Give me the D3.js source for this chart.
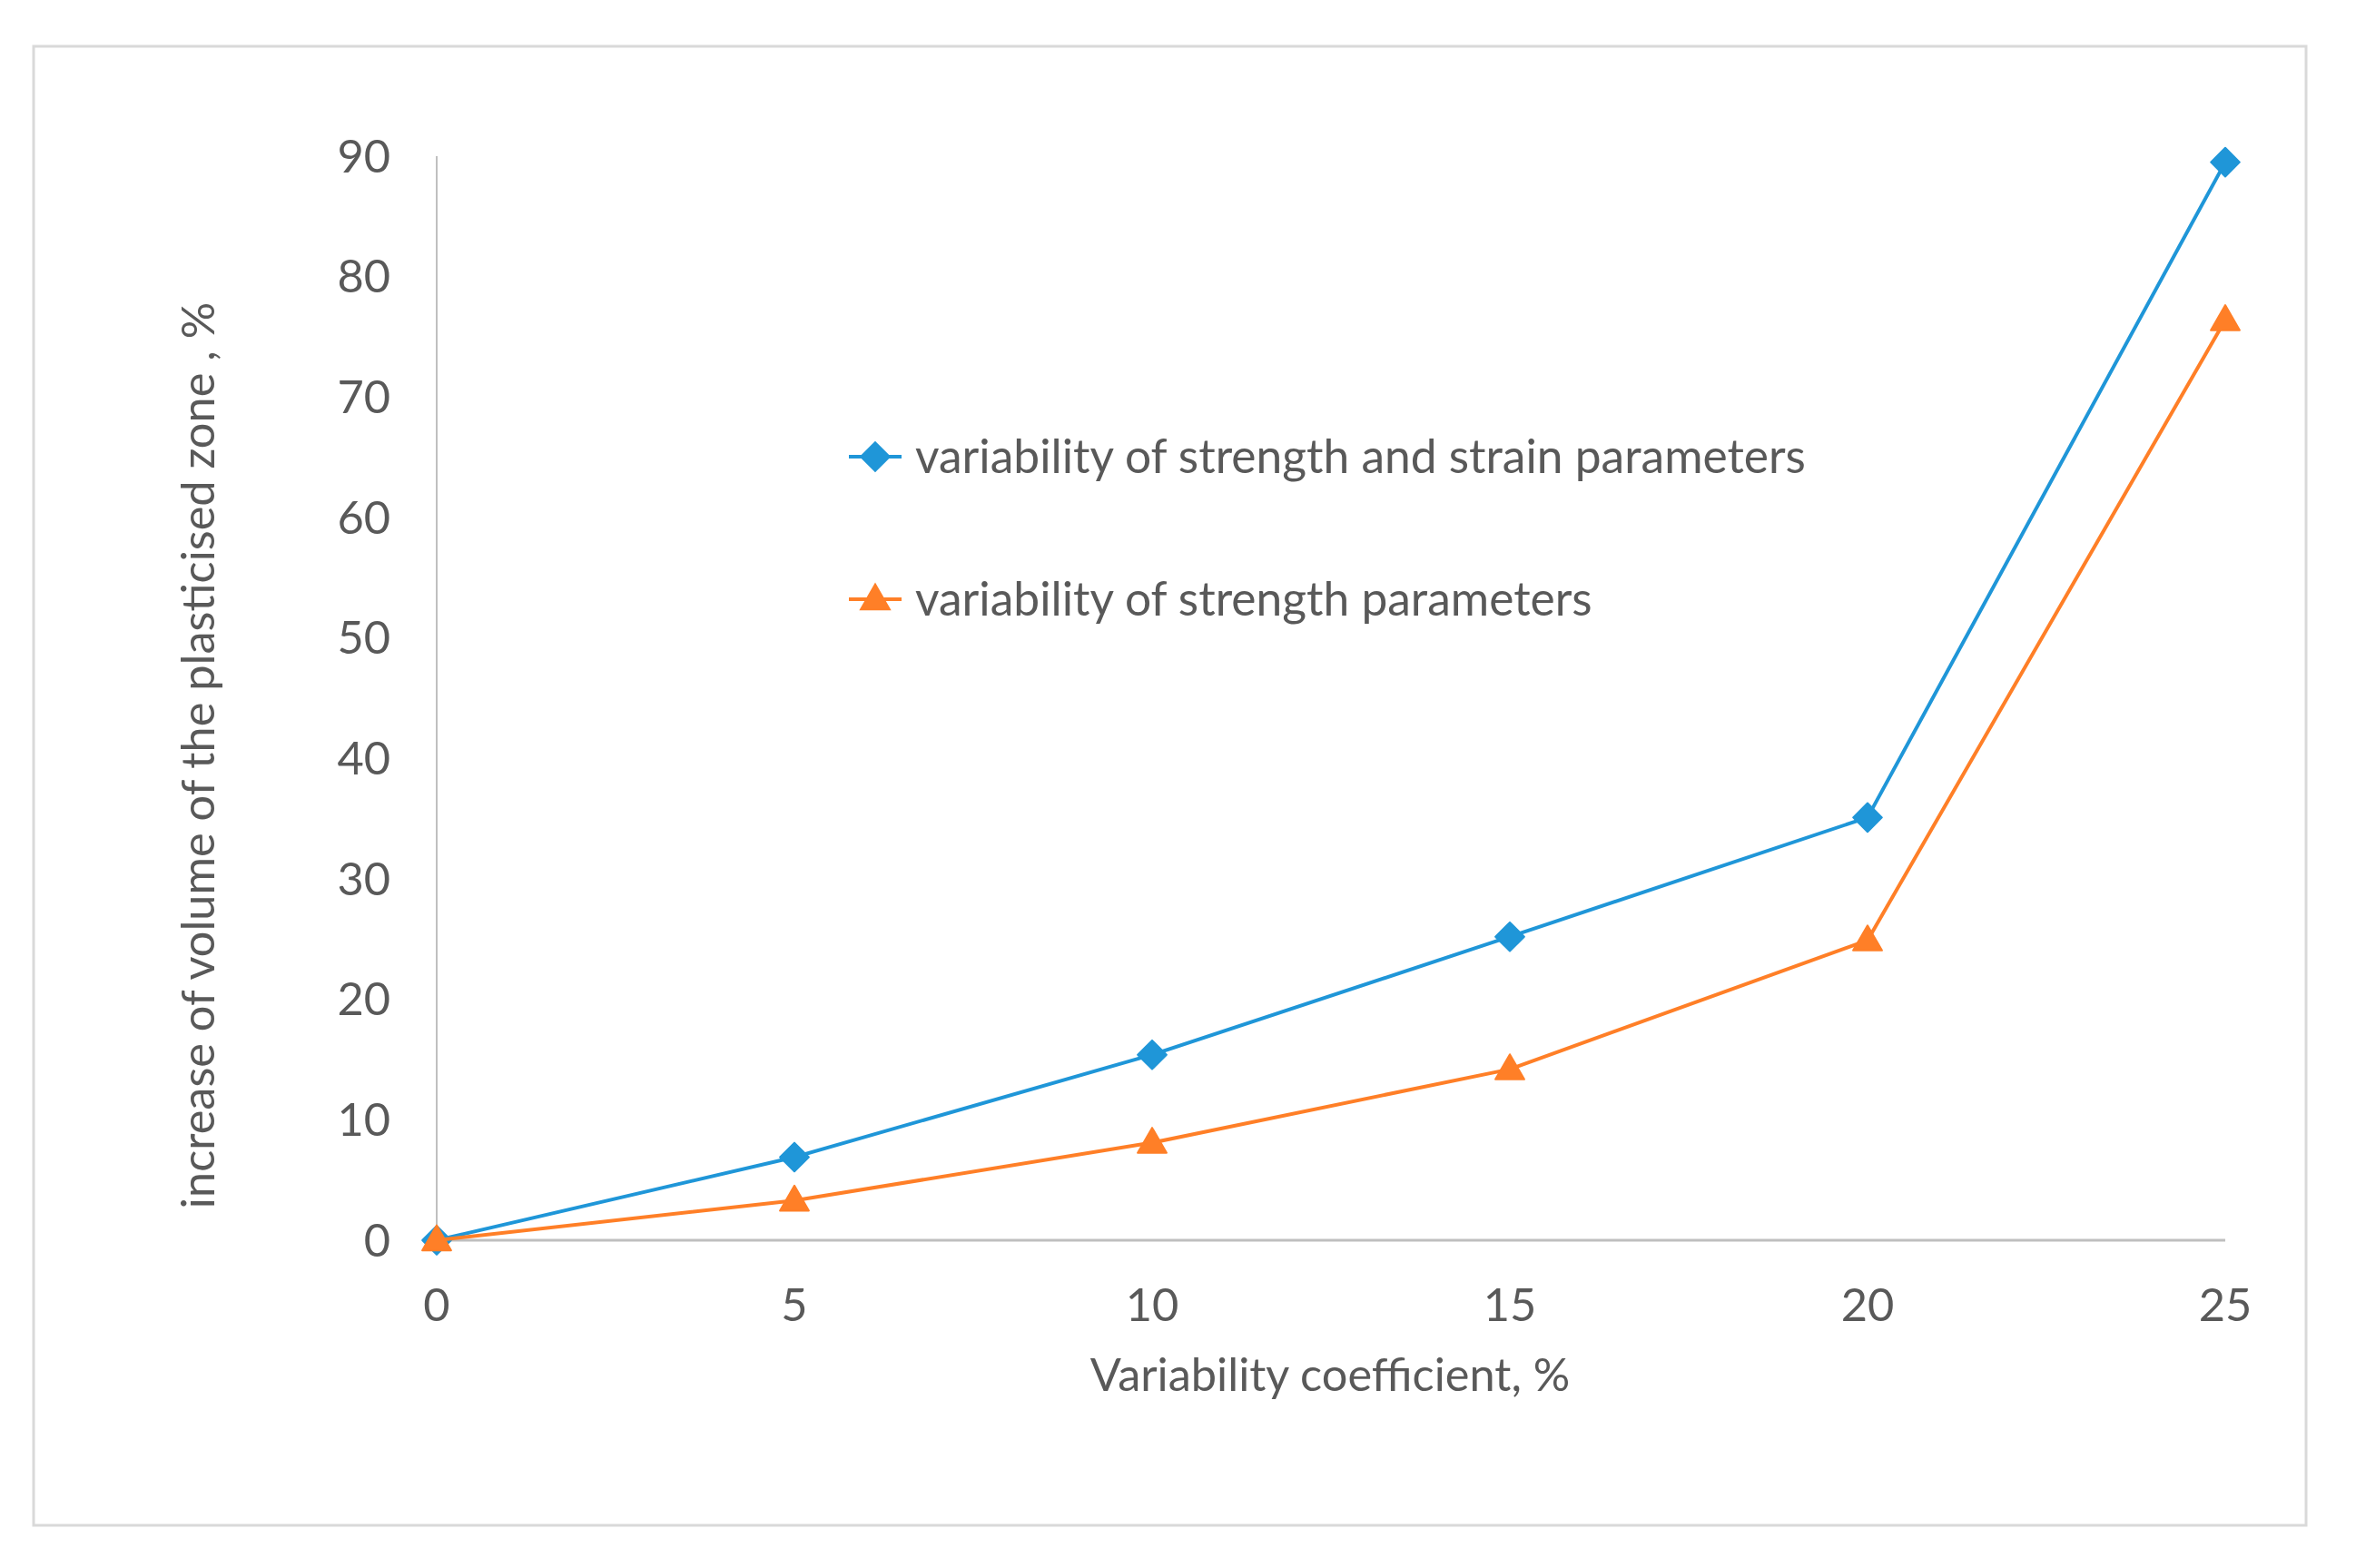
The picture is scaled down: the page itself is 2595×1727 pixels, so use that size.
<!DOCTYPE html>
<html><head><meta charset="utf-8">
<script src="https://cdn.jsdelivr.net/npm/d3@7"></script>
<style>body{margin:0;background:#fff}text{font-family:Lato,"Open Sans",sans-serif;fill:#595959}</style>
</head><body>
<svg id="c" width="2595" height="1727"></svg>
<script>
const xValues = [0, 5, 10, 15, 20, 25];
const seriesStrengthStrain = [0, 6.9, 15.4, 25.2, 35.1, 89.5];
const seriesStrength = [0, 3.3, 8.1, 14.2, 24.9, 76.4];
const seriesNames = ["variability of strength and strain parameters", "variability of strength parameters"];
const xTicks = [0, 5, 10, 15, 20, 25];
const yTicks = [0, 10, 20, 30, 40, 50, 60, 70, 80, 90];
const xTitle = "Variability coefficient, %";
const yTitle = "increase of volume of the plasticised zone , %";

const svg = d3.select("#c");
svg.append("rect").attr("x",0).attr("y",0).attr("width",2595).attr("height",1727).attr("fill","#fff");
svg.append("rect").attr("x",37).attr("y",51).attr("width",2503).attr("height",1629)
  .attr("fill","none").attr("stroke","#d9d9d9").attr("stroke-width",3);

const x = d3.scaleLinear().domain([0,25]).range([481,2451]);
const y = d3.scaleLinear().domain([0,90]).range([1366,172]);

svg.append("line").attr("x1",x(0)).attr("x2",x(0)).attr("y1",y(90)).attr("y2",y(0)).attr("stroke","#bfbfbf").attr("stroke-width",2);
svg.append("line").attr("x1",x(0)).attr("x2",x(25)).attr("y1",y(0)).attr("y2",y(0)).attr("stroke","#bfbfbf").attr("stroke-width",3);

const fs = 50.5;
svg.append("g").selectAll("text").data(yTicks).join("text")
  .attr("x",430).attr("y",d=>y(d)).attr("dy","0.35em").attr("text-anchor","end")
  .attr("font-size",fs).text(d=>d);
svg.append("g").selectAll("text").data(xTicks).join("text")
  .attr("x",d=>x(d)).attr("y",1437).attr("dy","0.35em").attr("text-anchor","middle")
  .attr("font-size",fs).text(d=>d);
svg.append("text").attr("x",1465).attr("y",1514).attr("dy","0.35em").attr("text-anchor","middle").attr("font-size",fs).text(xTitle);
svg.append("text").attr("transform","translate(218,832) rotate(-90)").attr("dy","0.35em").attr("text-anchor","middle").attr("font-size",fs).text(yTitle);

const colors = ["#1f96d8", "#ff7f27"];
const allSeries = [seriesStrengthStrain, seriesStrength];
const line = d3.line().x((d,i)=>x(xValues[i])).y(d=>y(d));
const diamond = d3.symbol().type(d3.symbolDiamond2).size(640);
const tri = d3.symbol().type(d3.symbolTriangle).size(440);
allSeries.forEach((s,k)=>{
  const g = svg.append("g");
  g.append("path").datum(s).attr("d",line).attr("fill","none").attr("stroke",colors[k]).attr("stroke-width",4).attr("stroke-linejoin","round");
  g.selectAll("path.m").data(s).join("path").attr("class","m")
    .attr("transform",(d,i)=>`translate(${x(xValues[i])},${y(d)+(k===1?2:0)})`)
    .attr("d",k===0?diamond:tri).attr("fill",colors[k]).attr("stroke",colors[k]).attr("stroke-width",2).attr("stroke-linejoin","round");
});

const legY = [503, 660];
seriesNames.forEach((n,k)=>{
  const g = svg.append("g");
  g.append("line").attr("x1",935).attr("x2",993).attr("y1",legY[k]).attr("y2",legY[k]).attr("stroke",colors[k]).attr("stroke-width",4);
  g.append("path").attr("transform",`translate(964,${legY[k]+(k===1?2:0)})`).attr("d",k===0?diamond:tri).attr("fill",colors[k]).attr("stroke",colors[k]).attr("stroke-width",2);
  g.append("text").attr("x",1008).attr("y",legY[k]).attr("dy","0.35em").attr("font-size",51.5).text(n);
});
</script>
</body></html>
